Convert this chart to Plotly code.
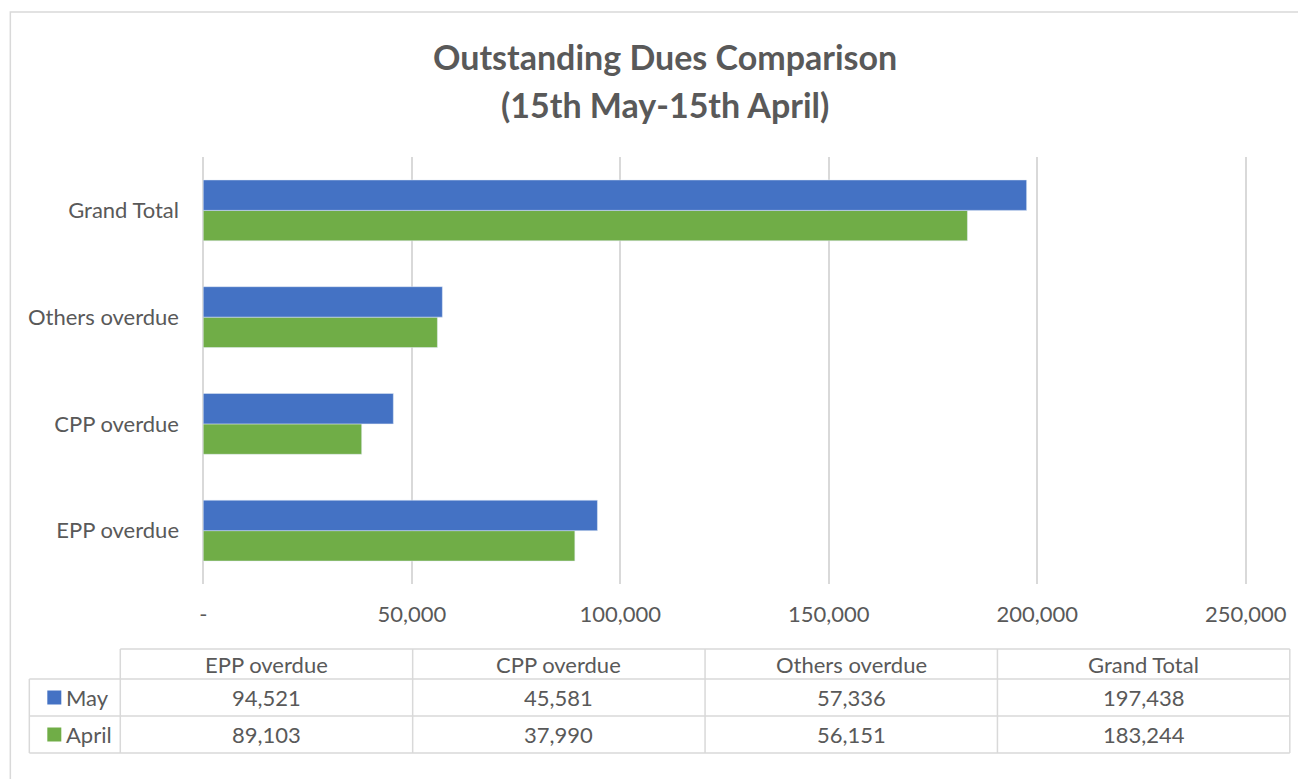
import plotly.graph_objects as go

categories = ["EPP overdue", "CPP overdue", "Others overdue", "Grand Total"]
may_values = [94521, 45581, 57336, 197438]
april_values = [89103, 37990, 56151, 183244]
series_names = ["May", "April"]
tick_values = [0, 50000, 100000, 150000, 200000, 250000]
tick_labels = ["-", "50,000", "100,000", "150,000", "200,000", "250,000"]
title_lines = ["Outstanding Dues Comparison", "(15th May-15th April)"]

BLUE = "#4472C4"
GREY = "#595959"
GREEN = "#70AD47"
LINE = "#D9D9D9"
FONT = "Lato"
FS = 22

OFF = 8  # browser body margin
W, H = 1306 - OFF, 779 - OFF
X0_PIX, X250_PIX = 203, 1246          # screen pixels of 0 and 250,000
XMIN, XMAX = -300, 251000             # small padding so edge gridlines draw
K = (X250_PIX - X0_PIX) / 250000
PL = X0_PIX + XMIN * K
PR = X0_PIX + XMAX * K
PT, PB = 157, 584


def px(x):
    return (x - PL) / (PR - PL)


def py(y):
    return (PB - y) / (PB - PT)


fig = go.Figure()
fig.add_trace(go.Bar(y=categories, x=april_values, name=series_names[1], orientation="h",
                     marker=dict(color=GREEN)))
fig.add_trace(go.Bar(y=categories, x=may_values, name=series_names[0], orientation="h",
                     marker=dict(color=BLUE)))

shapes = []
annotations = []


def text(x, y, s, size=FS, xanchor="center", bold=False):
    annotations.append(dict(x=px(x), y=py(y), xref="paper", yref="paper",
                            text=f"<b>{s}</b>" if bold else s,
                            xanchor=xanchor, yanchor="middle", showarrow=False,
                            font=dict(family=FONT, size=size, color=GREY)))


def line(x0, y0, x1, y1):
    shapes.append(dict(type="line", xref="paper", yref="paper", x0=px(x0), x1=px(x1),
                       y0=py(y0), y1=py(y1), line=dict(color=LINE, width=1.5)))


# outer chart border
shapes.append(dict(type="rect", xref="paper", yref="paper", x0=px(10), x1=px(1330),
                   y0=py(820), y1=py(12), line=dict(color=LINE, width=1.5), layer="below"))

# title (two lines)
text(665, 57, title_lines[0], size=34, bold=True)
text(665, 104, title_lines[1], size=34, bold=True)

# data table geometry
col_edges = [120, 412.5, 705, 997.5, 1290]
row_edges = [649, 679, 716, 753]
legend_left = 29

line(col_edges[0], row_edges[0], col_edges[-1], row_edges[0])
for r in row_edges[1:]:
    line(legend_left, r, col_edges[-1], r)
for c in col_edges:
    line(c, row_edges[0], c, row_edges[-1])
line(legend_left, row_edges[1], legend_left, row_edges[-1])

for i, cat in enumerate(categories):
    text((col_edges[i] + col_edges[i + 1]) / 2, (row_edges[0] + row_edges[1]) / 2, cat)

rows = [(series_names[0], may_values, BLUE), (series_names[1], april_values, GREEN)]
for j, (name, vals, col) in enumerate(rows):
    cy = (row_edges[j + 1] + row_edges[j + 2]) / 2
    shapes.append(dict(type="rect", xref="paper", yref="paper", x0=px(47), x1=px(61),
                       y0=py(cy + 7), y1=py(cy - 7), fillcolor=col, line=dict(width=0)))
    text(64, cy, name, xanchor="left")
    for i, v in enumerate(vals):
        text((col_edges[i] + col_edges[i + 1]) / 2, cy, f"{v:,}")

fig.update_layout(
    width=W, height=H,
    margin=dict(l=PL - OFF, r=W - (PR - OFF), t=PT - OFF, b=H - (PB - OFF), pad=0),
    paper_bgcolor="white", plot_bgcolor="white",
    barmode="group", bargap=0.43, bargroupgap=0,
    showlegend=False,
    xaxis=dict(range=[XMIN, XMAX], tickvals=tick_values, ticktext=tick_labels,
               showgrid=True, gridcolor=LINE, gridwidth=1.5,
               zeroline=True, zerolinecolor=LINE, zerolinewidth=1.5, showline=False,
               ticks="", ticklabelstandoff=15,
               tickfont=dict(family=FONT, size=FS, color=GREY)),
    yaxis=dict(showgrid=False, zeroline=False, showline=False, ticks="",
               ticklabelstandoff=22,
               tickfont=dict(family=FONT, size=FS, color=GREY)),
    shapes=shapes, annotations=annotations,
)

fig.write_html("out.html")
